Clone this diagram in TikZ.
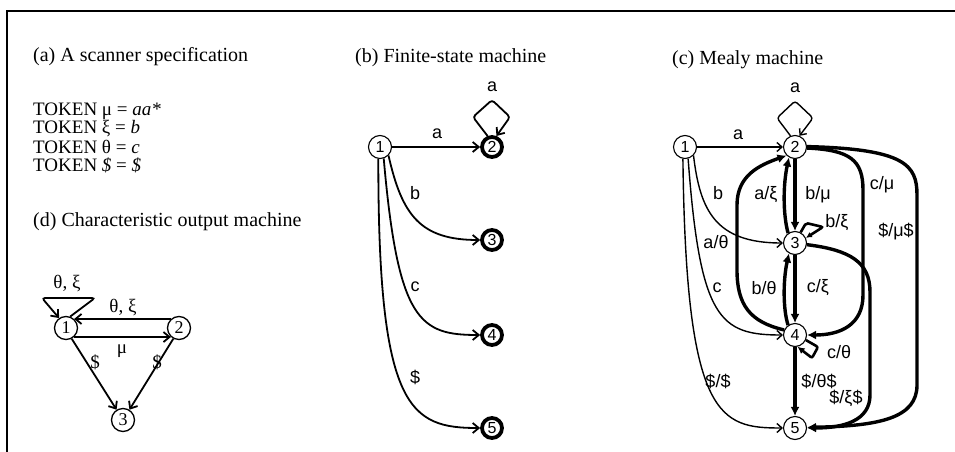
\documentclass[tikz,border=0pt]{standalone}
\usepackage{fontspec}
\setmainfont{Liberation Serif}
\newfontfamily\lsans{Liberation Sans}
\usetikzlibrary{arrows.meta}
\begin{document}
\begin{tikzpicture}[x=1pt,y=-1pt,
 st/.style={circle,draw,line width=1.1pt,minimum size=23pt,inner sep=0pt,font=\lsans\fontsize{16}{16}\selectfont},
 stser/.style={st,line width=1.3pt,font=\fontsize{18}{18}\selectfont},
 acc/.style={st,line width=3.8pt,minimum size=20pt},
 ed/.style={line width=1.4pt,-{Straight Barb[length=5pt,width=9pt]}},
 edb/.style={line width=1.8pt,-{Straight Barb[length=6pt,width=10pt]}},
 edd/.style={line width=1.8pt,-{Straight Barb[length=6pt,width=10pt]}},
 tk/.style={line width=3.4pt,-{Latex[length=9pt,width=9pt]}},
 lb/.style={font=\lsans\fontsize{18}{18}\selectfont,inner sep=0pt},
 lbs/.style={font=\fontsize{19}{19}\selectfont,inner sep=0pt},
 captxt/.style={font=\fontsize{20}{20}\selectfont,anchor=west,inner sep=0pt},
 toktxt/.style={font=\fontsize{19}{19}\selectfont,anchor=west,inner sep=0pt}]
\useasboundingbox (0,0) rectangle (955,452);
\draw[line width=2pt] (7,452) -- (7,11) -- (955,11);

% captions
\node[captxt] (capa) at (33,57) {(a) A scanner specification};
\node[toktxt] (tk1) at (33,111) {TOKEN μ = \textit{aa*}};
\node[toktxt] (tk2) at (33,129) {TOKEN ξ = \textit{b}};
\node[toktxt] (tk3) at (33,147) {TOKEN θ = \textit{c}};
\node[toktxt] (tk4) at (33,165) {TOKEN \textit{\$} = \textit{\$}};
\node[captxt] (capd) at (33,222) {(d) Characteristic output machine};
\node[captxt] (capb) at (355,58) {(b) Finite-state machine};
\node[captxt] (capc) at (672,60) {(c) Mealy machine};

% (d)
\node[stser] (d1) at (66,328) {1};
\node[stser] (d2) at (179,328) {2};
\node[stser] (d3) at (123,420) {3};
\draw[edd,rounded corners=3pt] (d1.70) -- (95,298) -- (42,298) -- (d1.125);
\node[lbs] (ld0) at (67,284) {θ, ξ};
\draw[edd] (d2.132) -- (d1.48);
\node[lbs] (ld1) at (123,308) {θ, ξ};
\draw[edd] (d1.-48) -- (d2.-132);
\node[lbs] (ld2) at (122,351) {μ};
\draw[edd] (d1.-62) -- (d3.122);
\node[lbs] (ld3) at (95,362) {\$};
\draw[edd] (d2.-118) -- (d3.58);
\node[lbs] (ld4) at (157,362) {\$};

% (b)
\node[st] (b1) at (380,147) {1};
\node[acc] (b2) at (492,147) {2};
\node[acc] (b3) at (492,240) {3};
\node[acc] (b4) at (492,335) {4};
\node[acc] (b5) at (492,428) {5};
\draw[edb] (b1) -- (b2);
\node[lb] (lb1) at (437,134) {a};
\draw[edb,rounded corners=3pt] (b2.112) -- (473,117) -- (492,100) -- (510,117) -- (b2.68);
\node[lb] (lb2) at (492,87) {a};
\draw[edb] (b1.-45) .. controls (402,215) and (420,240) .. (b3.west);
\node[lb] (lb3) at (415,193) {b};
\draw[edb] (b1.-72) .. controls (398,322) and (420,335) .. (b4.west);
\node[lb] (lb4) at (415,287) {c};
\draw[edb] (b1.-98) .. controls (378,410) and (410,428) .. (b5.west);
\node[lb] (lb5) at (415,377) {\$};

% (c)
\node[st] (c1) at (685,147) {1};
\node[st] (c2) at (795,147) {2};
\node[st] (c3) at (795,243) {3};
\node[st] (c4) at (795,335) {4};
\node[st] (c5) at (795,428) {5};
\draw[ed] (c1) -- (c2);
\node[lb] (lc1) at (738,135) {a};
\draw[ed,rounded corners=3pt] (c2.112) -- (777,118) -- (795,101) -- (813,118) -- (c2.68);
\node[lb] (lc2) at (795,88) {a};
\draw[ed] (c1.-45) .. controls (700,210) and (715,243) .. (c3.west);
\node[lb] (lc3) at (718,193) {b};
\draw[ed] (c1.-75) .. controls (700,320) and (720,335) .. (c4.west);
\node[lb] (lc4) at (717,288) {c};
\draw[ed] (c1.-100) .. controls (686,420) and (720,428) .. (c5.west);
\node[lb] (lc5) at (718,381) {\$/\$};
% thick
\draw[tk] (c2.south) -- (c3.north);
\node[lb] (lc6) at (818,195) {b/μ};
\draw[tk] (c3.125) .. controls (783,215) and (783,185) .. (c2.-120);
\node[lb] (lc7) at (766,195) {a/ξ};
\draw[tk] (c3.south) -- (c4.north);
\node[lb] (lc8) at (818,288) {c/ξ};
\draw[tk] (c4.125) .. controls (783,310) and (783,280) .. (c3.-120);
\node[lb] (lc9) at (764,288) {b/θ};
\draw[tk] (c4.south) -- (c5.north);
\node[lb] (lc10) at (819,381) {\$/θ\$};
\draw[tk] (c4.155) .. controls (750,322) and (737,305) .. (737,270) -- (737,205) .. controls (737,175) and (760,165) .. (c2.-135);
\node[lb] (lc11) at (716,242) {a/θ};
\draw[tk] (c2.-5) .. controls (850,150) and (863,160) .. (863,190) -- (863,295) .. controls (863,325) and (840,335) .. (c4.east);
\node[lb] (lc12) at (882,185) {c/μ};
\draw[tk] (c2.2) .. controls (905,149) and (917,165) .. (917,195) -- (917,385) .. controls (917,418) and (880,426) .. (c5.3);
\node[lb] (lc13) at (896,232) {\$/μ\$};
\draw[tk] (c3.-8) .. controls (850,250) and (870,262) .. (870,292) -- (870,395) .. controls (870,420) and (845,428) .. (c5.east);
\node[lb] (lc14) at (846,398) {\$/ξ\$};
\draw[line width=2.6pt,-{Latex[length=6pt,width=6pt]},rounded corners=2pt] (c3.62) -- (806,223) -- (823,227) -- (c3.25);
\node[lb] (lc15) at (837,223) {b/ξ};
\draw[line width=2.6pt,-{Latex[length=7pt,width=7pt]},rounded corners=2pt] (c4.-25) -- (818,347) -- (812,358) -- (c4.-78);
\node[lb] (lc16) at (839,352) {c/θ};
\end{tikzpicture}
\end{document}
